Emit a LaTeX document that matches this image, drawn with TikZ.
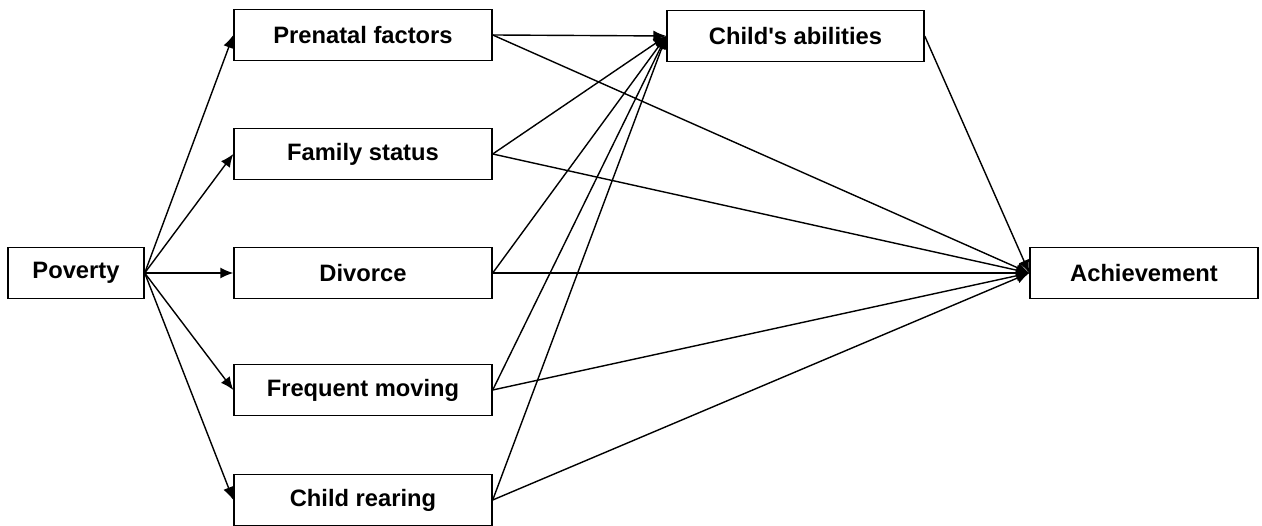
\documentclass[tikz,border=0pt]{standalone}
\usepackage{fontspec}
\setmainfont{Liberation Sans}
\usepackage{tikz}
\usetikzlibrary{arrows.meta}

\begin{document}
\begin{tikzpicture}[font=\fontsize{13.5}{16}\selectfont\bfseries, line width=0.8pt, -{Latex[length=2.6mm,width=2.2mm]},
    box/.style={draw, rectangle, minimum height=1.02cm, inner sep=0pt}]
	\useasboundingbox (0,0) rectangle (25.24,10.52);
    \node (Poverty) [box, minimum width=2.72cm] at (1.52,5.06) {Poverty};
    \node (Prenatal) [box, minimum width=5.16cm] at (7.26,9.82) {Prenatal factors};
    \node (Family) [box, minimum width=5.16cm] at (7.26,7.44) {Family status};
    \node (Divorce) [box, minimum width=5.16cm] at (7.26,5.06) {Divorce};
    \node (Moving) [box, minimum width=5.16cm] at (7.26,2.72) {Frequent moving};
    \node (Rearing) [box, minimum width=5.16cm] at (7.26,0.52) {Child rearing};
    \node (Abilities) [box, minimum width=5.14cm] at (15.91,9.80) {Child\textquotesingle s abilities};
    \node (Achievement) [box, minimum width=4.56cm] at (22.88,5.06) {Achievement};
    % poverty to the five factors
    \draw (Poverty.east) -- (Prenatal.west);
    \draw (Poverty.east) -- (Family.west);
    \draw (Poverty.east) -- (Divorce.west);
    \draw (Poverty.east) -- (Moving.west);
    \draw (Poverty.east) -- (Rearing.west);
    % factors to child's abilities
    \draw (Prenatal.east) -- (Abilities.west);
    \draw (Family.east) -- (Abilities.west);
    \draw (Divorce.east) -- (Abilities.west);
    \draw (Moving.east) -- (Abilities.west);
    \draw (Rearing.east) -- (Abilities.west);
    % factors to achievement
    \draw (Prenatal.east) -- (Achievement.west);
    \draw (Family.east) -- (Achievement.west);
    \draw (Divorce.east) -- (Achievement.west);
    \draw (Moving.east) -- (Achievement.west);
    \draw (Rearing.east) -- (Achievement.west);
    \draw (Abilities.east) -- (Achievement.west);
\end{tikzpicture}
\end{document}
